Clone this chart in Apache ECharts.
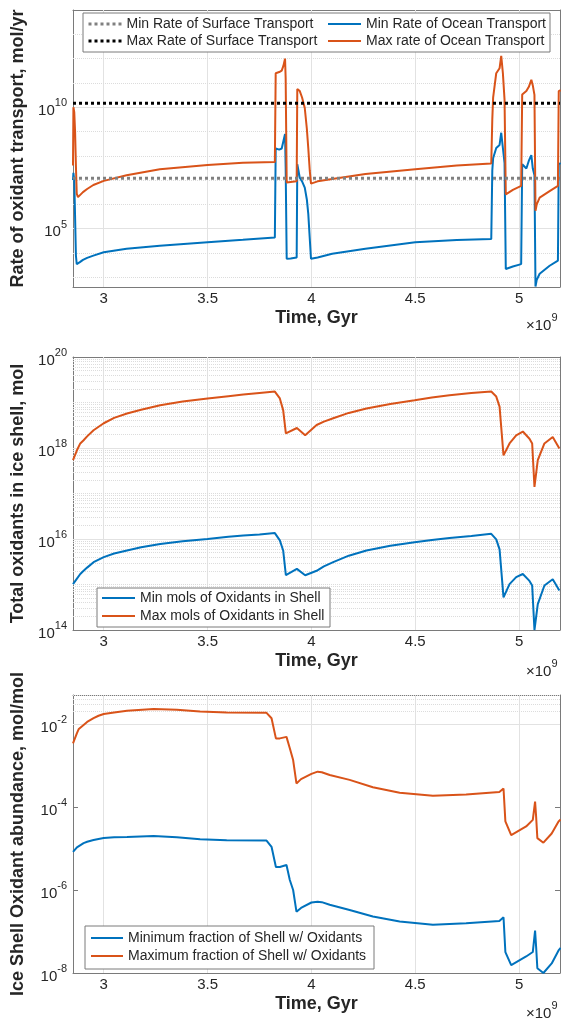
<!DOCTYPE html>
<html><head><meta charset="utf-8">
<script src="https://cdn.jsdelivr.net/npm/echarts@6/dist/echarts.min.js"></script>
<style>html,body{margin:0;padding:0;background:#fff}#c{width:561px;height:1019px}</style>
</head><body><div id="c"></div>
<script>
// ---------- DATA (time in units of 1e9 yr) ----------
const xTicks = [3, 3.5, 4, 4.5, 5];

// Panel 1: rate of oxidant transport, mol/yr
const rateTime = [2.852, 2.854, 2.858, 2.862, 2.866, 2.870, 2.876, 2.885, 2.90, 2.92, 2.95, 3.0, 3.11, 3.27, 3.5, 3.67, 3.824, 3.828, 3.845, 3.857, 3.865, 3.873, 3.876, 3.881, 3.90, 3.929, 3.932, 3.944, 3.955, 3.968, 3.978, 3.985, 3.992, 3.998, 4.03, 4.1, 4.26, 4.5, 4.7, 4.866, 4.871, 4.875, 4.89, 4.906, 4.914, 4.922, 4.93, 4.936, 4.97, 5.01, 5.015, 5.035, 5.047, 5.059, 5.066, 5.074, 5.079, 5.085, 5.099, 5.147, 5.187, 5.191, 5.2];
const maxOceanRate = [4.0e7, 1.0e10, 6.3e9, 1.0e9, 4.0e7, 2.8e6, 2.0e6, 2.3e6, 3.2e6, 4.3e6, 6.3e6, 9.3e6, 1.6e7, 2.8e7, 4.2e7, 5.2e7, 5.6e7, 2.5e11, 2.8e11, 3.2e11, 5.0e11, 1.0e12, 1.6e11, 7.9e6, 8.3e6, 8.9e6, 5.6e10, 4.6e10, 2.5e10, 9.3e9, 1.3e9, 2.0e8, 2.5e7, 7.2e6, 8.9e6, 1.1e7, 1.8e7, 2.8e7, 4.0e7, 4.8e7, 3.2e9, 2.5e10, 2.5e11, 4.0e11, 1.3e12, 2.5e11, 2.0e10, 2.6e6, 4.0e6, 5.8e6, 3.3e10, 4.6e10, 6.9e10, 1.35e11, 7.9e10, 3.2e10, 5.5e5, 1.0e6, 1.9e6, 3.5e6, 5.8e6, 4.6e10, 5.0e10];
const minOceanRate = [1.0e7, 2.0e7, 1.0e7, 3.2e5, 7.9e3, 3.5e3, 3.7e3, 4.2e3, 5.2e3, 6.3e3, 7.8e3, 1.07e4, 1.5e4, 2.0e4, 2.75e4, 3.5e4, 4.4e4, 2.0e8, 1.8e8, 2.0e8, 4.0e8, 7.9e8, 3.2e7, 5.8e3, 6.0e3, 6.6e3, 4.5e7, 1.26e7, 8.9e6, 4.9e6, 1.6e6, 4.0e5, 4.0e4, 5.8e3, 6.6e3, 9.3e3, 1.5e4, 2.75e4, 3.4e4, 3.8e4, 2.5e7, 7.9e7, 2.1e8, 2.8e8, 8.9e8, 2.1e8, 5.0e7, 2.2e3, 2.8e3, 3.5e3, 4.5e7, 3.0e7, 6.3e7, 1.07e8, 3.0e7, 1.6e7, 4.2e2, 7.9e2, 1.4e3, 3.0e3, 4.9e3, 4.5e7, 5.0e7];
const minSurfaceRate = 1.2e7;
const maxSurfaceRate = 1.45e10;
const rateTicks = [1e5, 1e10];

// Panel 2: total oxidants in ice shell, mol
const shellTime = [2.852, 2.871, 2.887, 2.903, 2.92, 2.951, 3.0, 3.05, 3.112, 3.18, 3.272, 3.38, 3.5, 3.6, 3.672, 3.75, 3.824, 3.848, 3.864, 3.877, 3.93, 3.97, 4.025, 4.06, 4.105, 4.18, 4.265, 4.38, 4.497, 4.58, 4.665, 4.77, 4.866, 4.89, 4.906, 4.925, 4.954, 4.986, 5.018, 5.05, 5.063, 5.074, 5.09, 5.122, 5.162, 5.194];
const maxShellMol = [5.4e17, 8.9e17, 1.26e18, 1.48e18, 1.8e18, 2.45e18, 3.5e18, 4.6e18, 5.75e18, 6.9e18, 8.7e18, 1.05e19, 1.23e19, 1.38e19, 1.5e19, 1.62e19, 1.74e19, 1.23e19, 6.8e18, 2.1e18, 2.75e18, 1.9e18, 3.2e18, 3.8e18, 4.5e18, 5.9e18, 7.4e18, 9.3e18, 1.12e19, 1.29e19, 1.45e19, 1.62e19, 1.74e19, 1.35e19, 8.1e18, 6.9e17, 1.26e18, 1.9e18, 2.3e18, 1.6e18, 1.26e18, 1.4e17, 5.4e17, 1.26e18, 1.74e18, 9.8e17];
const minShellMol = [1.02e15, 1.35e15, 1.7e15, 2.0e15, 2.35e15, 3.1e15, 4.0e15, 4.8e15, 5.6e15, 6.6e15, 7.8e15, 8.9e15, 1.0e16, 1.12e16, 1.2e16, 1.26e16, 1.35e16, 9.3e15, 5.6e15, 1.6e15, 2.2e15, 1.6e15, 2.0e15, 2.5e15, 3.1e15, 4.3e15, 5.6e15, 7.1e15, 8.5e15, 9.5e15, 1.05e16, 1.17e16, 1.3e16, 9.8e15, 5.9e15, 5.2e14, 1.02e15, 1.45e15, 1.7e15, 1.2e15, 9.5e14, 1.0e14, 3.7e14, 9.5e14, 1.3e15, 7.4e14];
const shellTicks = [1e14, 1e16, 1e18, 1e20];

// Panel 3: ice shell oxidant abundance, mol/mol
const fracTime = [2.852, 2.871, 2.88, 2.903, 2.92, 2.951, 2.975, 3.0, 3.05, 3.112, 3.24, 3.352, 3.464, 3.592, 3.784, 3.808, 3.829, 3.848, 3.88, 3.896, 3.912, 3.928, 3.95, 4.0, 4.03, 4.05, 4.088, 4.184, 4.296, 4.425, 4.585, 4.745, 4.905, 4.925, 4.934, 4.962, 5.034, 5.066, 5.077, 5.082, 5.088, 5.117, 5.157, 5.19, 5.2];
const maxFraction = [3.4e-3, 6.0e-3, 7.6e-3, 9.5e-3, 1.12e-2, 1.38e-2, 1.58e-2, 1.74e-2, 1.9e-2, 2.1e-2, 2.3e-2, 2.2e-2, 2.0e-2, 1.9e-2, 1.86e-2, 1.38e-2, 4.5e-3, 4.5e-3, 4.9e-3, 2.6e-3, 1.35e-3, 3.7e-4, 4.7e-4, 6.3e-4, 7.1e-4, 6.9e-4, 5.9e-4, 4.5e-4, 3.0e-4, 2.2e-4, 1.86e-4, 2.0e-4, 2.3e-4, 2.8e-4, 4.5e-5, 2.1e-5, 3.4e-5, 4.9e-5, 1.35e-4, 5.9e-5, 1.78e-5, 1.38e-5, 2.3e-5, 4.5e-5, 5.0e-5];
const minFraction = [8.3e-6, 1.07e-5, 1.17e-5, 1.35e-5, 1.45e-5, 1.6e-5, 1.7e-5, 1.78e-5, 1.86e-5, 1.9e-5, 2.0e-5, 1.86e-5, 1.66e-5, 1.58e-5, 1.55e-5, 1.1e-5, 3.6e-6, 3.6e-6, 4.0e-6, 1.74e-6, 1.0e-6, 3.0e-7, 3.7e-7, 5.0e-7, 5.2e-7, 5.1e-7, 4.4e-7, 3.3e-7, 2.3e-7, 1.74e-7, 1.45e-7, 1.58e-7, 1.8e-7, 2.2e-7, 3.2e-8, 1.55e-8, 2.5e-8, 3.2e-8, 1.05e-7, 4.3e-8, 1.3e-8, 1.0e-8, 1.7e-8, 3.5e-8, 4.0e-8];
const fracTicks = [1e-8, 1e-6, 1e-4, 1e-2];

// ---------- STYLE / LAYOUT ----------
const FONT = '"Liberation Sans", Arial, Helvetica, sans-serif';
const TXT = '#262626';
const AX = '#7a7a7a';
const BLUE = '#0072BD', ORANGE = '#D95319';
const X_MIN = 2.852, X_MAX = 5.197;
const GRIDS = [
  {left: 73, right: 1, top: 10, height: 277},
  {left: 73, right: 1, top: 357, height: 273},
  {left: 73, right: 1, top: 695, height: 278}
];
const Y_RANGE = [[400, 1e14], [1e14 * 0.9999, 1e20 * 1.0001], [1e-8 * 0.9999, 0.05]];
const Y_TICKS = [rateTicks, shellTicks, fracTicks];
const Y_NAMES = ['Rate of oxidant transport, mol/yr', 'Total oxidants in ice shell, mol', 'Ice Shell Oxidant abundance, mol/mol'];

const supRich = {
  b: {fontSize: 15, color: TXT, fontFamily: FONT, padding: [7, 0, 0, 0]},
  s: {fontSize: 11, color: TXT, fontFamily: FONT, padding: [0, 0, 8, 0]}
};
function supLabel(v) { return '{b|10}{s|' + Math.round(Math.log10(v)) + '}'; }

const MAJOR = {color: '#e2e2e2', width: 1, type: 'solid'};
const MINOR = {color: '#dcdcdc', width: 1, type: 'dotted'};

function gridMarks(panel) {
  const out = [];
  xTicks.forEach(v => out.push({xAxis: v, lineStyle: MAJOR}));
  if (panel === 0) {
    for (let n = 3; n <= 13; n++) {
      out.push({yAxis: Math.pow(10, n), lineStyle: (n === 5 || n === 10) ? MAJOR : MINOR});
    }
  } else {
    const lo = panel === 1 ? 14 : -8, hi = panel === 1 ? 19 : -2;
    for (let n = lo; n <= hi; n++) {
      for (let k = 1; k <= 9; k++) {
        const v = k * Math.pow(10, n);
        if (panel === 2 && v > 0.05) continue;
        if (k === 1 && n === lo) continue;
        const major = (k === 1 && n % 2 === 0);
        out.push({yAxis: v, lineStyle: major ? MAJOR : MINOR});
      }
    }
  }
  return out;
}

const xAxes = [], yAxes = [];
GRIDS.forEach((g, i) => {
  xAxes.push({
    gridIndex: i, type: 'value', min: X_MIN, max: X_MAX,
    axisLine: {show: true, onZero: false, lineStyle: {color: AX, width: 1}},
    axisTick: {show: true, inside: true, length: 5, customValues: xTicks, lineStyle: {color: AX}},
    axisLabel: {customValues: xTicks, fontSize: 15, color: TXT, fontFamily: FONT, margin: 4, formatter: v => String(v)},
    splitLine: {show: false},
    name: 'Time, Gyr', nameLocation: 'middle', nameGap: 22,
    nameTextStyle: {fontSize: 18, fontWeight: 'bold', color: TXT, fontFamily: FONT}
  });
  xAxes.push({
    gridIndex: i, type: 'value', position: 'top', min: X_MIN, max: X_MAX,
    axisLine: {show: true, onZero: false, lineStyle: {color: AX, width: 1}},
    axisTick: {show: true, inside: true, length: 5, customValues: xTicks, lineStyle: {color: AX}},
    axisLabel: {show: false}, splitLine: {show: false}
  });
  yAxes.push({
    gridIndex: i, type: 'log', logBase: 10, min: Y_RANGE[i][0], max: Y_RANGE[i][1],
    axisLine: {show: true, onZero: false, lineStyle: {color: AX, width: 1}},
    axisTick: {show: true, inside: true, length: 5, customValues: Y_TICKS[i], lineStyle: {color: AX}},
    axisLabel: {customValues: Y_TICKS[i], formatter: supLabel, rich: supRich, margin: 6},
    splitLine: {show: false},
    name: Y_NAMES[i], nameLocation: 'middle', nameGap: 46,
    nameTextStyle: {fontSize: 18, fontWeight: 'bold', color: TXT, fontFamily: FONT}
  });
  yAxes.push({
    gridIndex: i, type: 'log', logBase: 10, position: 'right', min: Y_RANGE[i][0], max: Y_RANGE[i][1],
    axisLine: {show: true, onZero: false, lineStyle: {color: AX, width: 1}},
    axisTick: {show: true, inside: true, length: 5, customValues: Y_TICKS[i], lineStyle: {color: AX}},
    axisLabel: {show: false}, splitLine: {show: false}
  });
});

function pairs(t, v) { return t.map((x, i) => [x, v[i]]); }
function lineSeries(name, panel, data, color, extra) {
  return Object.assign({
    name, type: 'line', xAxisIndex: panel * 2, yAxisIndex: panel * 2, data,
    symbol: 'none', showSymbol: false, silent: true, z: 3,
    lineStyle: {color, width: 2}, itemStyle: {color}
  }, extra || {});
}

const series = [];
[0, 1, 2].forEach(p => {
  series.push({
    type: 'line', xAxisIndex: p * 2, yAxisIndex: p * 2, data: [], silent: true, z: 1,
    markLine: {silent: true, symbol: ['none', 'none'], label: {show: false}, animation: false, z: 1,
      lineStyle: {type: 'solid'}, emphasis: {disabled: true}, data: gridMarks(p)}
  });
});
series.push(lineSeries('Min Rate of Ocean Transport', 0, pairs(rateTime, minOceanRate), BLUE));
series.push(lineSeries('Max rate of Ocean Transport', 0, pairs(rateTime, maxOceanRate), ORANGE));
series.push(lineSeries('Min Rate of Surface Transport', 0, [[X_MIN, minSurfaceRate], [X_MAX, minSurfaceRate]], '#808080',
  {z: 4, lineStyle: {color: '#808080', width: 3, type: 'dotted'}}));
series.push(lineSeries('Max Rate of Surface Transport', 0, [[X_MIN, maxSurfaceRate], [X_MAX, maxSurfaceRate]], '#000000',
  {z: 4, lineStyle: {color: '#000000', width: 3, type: 'dotted'}}));
series.push(lineSeries('Min mols of Oxidants in Shell', 1, pairs(shellTime, minShellMol), BLUE));
series.push(lineSeries('Max mols of Oxidants in Shell', 1, pairs(shellTime, maxShellMol), ORANGE));
series.push(lineSeries('Minimum fraction of Shell w/ Oxidants', 2, pairs(fracTime, minFraction), BLUE));
series.push(lineSeries('Maximum fraction of Shell w/ Oxidants', 2, pairs(fracTime, maxFraction), ORANGE));

function legendAt(name, left, top, w) {
  return {data: [name], left, top, orient: 'horizontal', padding: 0, itemGap: 0,
    itemWidth: w, itemHeight: 14, selectedMode: false, z: 5,
    itemStyle: {opacity: 0, borderWidth: 0},
    lineStyle: {width: 'inherit'},
    textStyle: {fontSize: 14, color: TXT, fontFamily: FONT}};
}
const legends = [
  legendAt('Min Rate of Surface Transport', 87, 17, 33),
  legendAt('Max Rate of Surface Transport', 87, 34, 33),
  legendAt('Min Rate of Ocean Transport', 327, 17, 33),
  legendAt('Max rate of Ocean Transport', 327, 34, 33),
  legendAt('Min mols of Oxidants in Shell', 101, 591, 33),
  legendAt('Max mols of Oxidants in Shell', 101, 609, 33),
  legendAt('Minimum fraction of Shell w/ Oxidants', 90, 931, 32),
  legendAt('Maximum fraction of Shell w/ Oxidants', 90, 949, 32)
];

const boxStyle = {fill: '#ffffff', stroke: '#7a7a7a', lineWidth: 1};
const expRich = {
  a: {fontSize: 15, fill: TXT, color: TXT, fontFamily: FONT, padding: [7, 0, 0, 0]},
  s: {fontSize: 11, fill: TXT, color: TXT, fontFamily: FONT, padding: [0, 0, 8, 0]}
};
const graphic = [
  {type: 'rect', shape: {x: 83, y: 13, width: 467, height: 39}, style: boxStyle, z: 3},
  {type: 'rect', shape: {x: 97, y: 588, width: 233, height: 39}, style: boxStyle, z: 3},
  {type: 'rect', shape: {x: 85, y: 926, width: 289, height: 43}, style: boxStyle, z: 3}
];
[322, 668, 1010].forEach(y => graphic.push({
  type: 'text', x: 526, y: y, z: 5,
  style: {text: '{a|\u00d710}{s|9}', rich: expRich, verticalAlign: 'middle', align: 'left', fill: TXT}
}));

const chart = echarts.init(document.getElementById('c'), null, {renderer: 'canvas'});
chart.setOption({
  animation: false,
  backgroundColor: '#ffffff',
  textStyle: {fontFamily: FONT},
  grid: GRIDS,
  xAxis: xAxes,
  yAxis: yAxes,
  legend: legends,
  graphic,
  series
});
</script>
</body></html>
